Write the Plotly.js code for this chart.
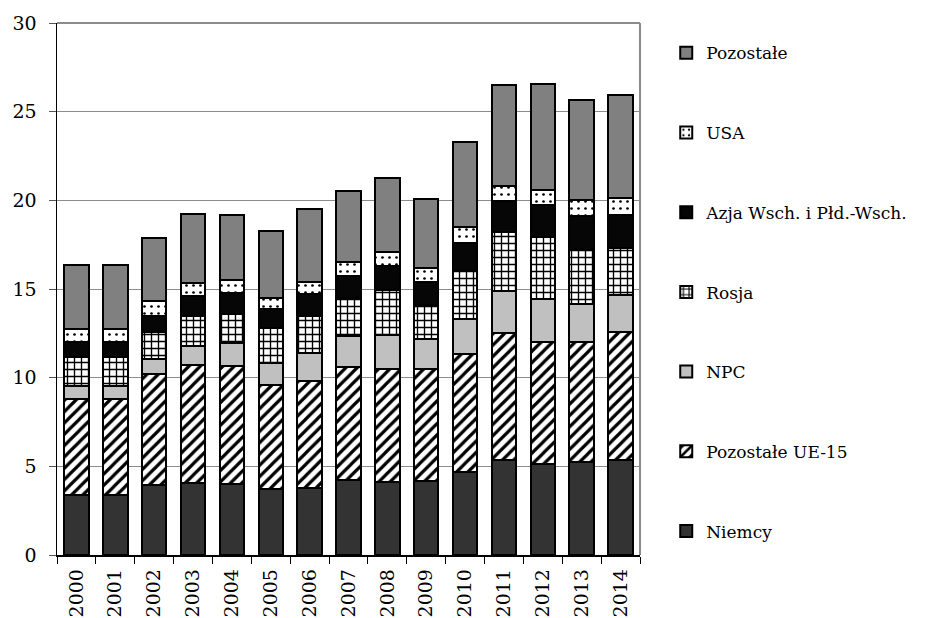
<!DOCTYPE html>
<html>
<head>
<meta charset="utf-8">
<script src="https://cdn.plot.ly/plotly-3.0.1.min.js"></script>
<style>html,body{margin:0;padding:0;background:#fff;}#chart{width:928px;height:618px;}</style>
</head>
<body>
<div id="chart"></div>
<script>
const years = ["2000","2001","2002","2003","2004","2005","2006","2007","2008","2009","2010","2011","2012","2013","2014"];
const niemcy     = [3.39,3.39,3.93,4.08,3.99,3.71,3.76,4.23,4.14,4.18,4.67,5.36,5.14,5.23,5.36];
const pozUE15    = [5.40,5.40,6.28,6.64,6.64,5.88,6.08,6.36,6.34,6.32,6.67,7.15,6.86,6.77,7.21];
const npc        = [0.75,0.75,0.87,1.04,1.32,1.23,1.54,1.77,1.94,1.69,1.96,2.35,2.43,2.16,2.10];
const rosja      = [1.65,1.65,1.47,1.69,1.65,1.97,2.07,2.13,2.53,1.92,2.69,3.35,3.50,3.05,2.64];
const azja       = [0.83,0.83,0.94,1.13,1.17,1.11,1.28,1.22,1.36,1.31,1.63,1.78,1.82,1.89,1.88];
const usa        = [0.73,0.73,0.81,0.75,0.71,0.59,0.69,0.84,0.75,0.79,0.87,0.83,0.85,0.93,0.94];
const pozostale  = [3.62,3.62,3.59,3.91,3.72,3.78,4.09,3.95,4.21,3.86,4.80,5.70,5.96,5.61,5.83];
const yTicks = [0,5,10,15,20,25,30];

const line = {color:'#000', width:2};
function bar(name, vals, color, rank, pattern){
  const m = {color: color, line: line};
  if (pattern) m.pattern = pattern;
  return {type:'bar', name:name, x:years, y:vals, marker:m, legendgroup:name, legendrank:rank, hoverinfo:'x+y+name'};
}
const traces = [
  bar('Niemcy', niemcy, '#333333', 7),
  bar('Pozostałe UE-15', pozUE15, '#ffffff', 6, {shape:'/', fgcolor:'#000', bgcolor:'#fff', size:8, solidity:0.4}),
  bar('NPC', npc, '#c0c0c0', 5),
  bar('Rosja', rosja, '#ffffff', 4, {shape:'+', fgcolor:'#000', bgcolor:'#fff', size:7, solidity:0.35}),
  bar('Azja Wsch. i Płd.-Wsch.', azja, '#060606', 3),
  bar('USA', usa, '#ffffff', 2, {shape:'.', fgcolor:'#000', bgcolor:'#fff', size:7, solidity:0.12}),
  bar('Pozostałe', pozostale, '#808080', 1)
];

const fam = 'DejaVu Serif';
const layout = {
  width:928, height:618,
  margin:{l:57, r:288, t:23, b:63, pad:0},
  paper_bgcolor:'#fff', plot_bgcolor:'#fff',
  barmode:'stack', bargap:0.37,
  font:{family:fam, size:19, color:'#000'},
  showlegend:true,
  legend:{
    x:1.045, xanchor:'left', y:0.977, yanchor:'top',
    traceorder:'grouped', tracegroupgap:54.6,
    font:{family:fam, size:17, color:'#000'},
    bgcolor:'rgba(0,0,0,0)', borderwidth:0
  },
  xaxis:{
    type:'category', tickson:'boundaries', ticks:'outside', ticklen:7, tickcolor:'#000', tickwidth:1,
    tickangle:-90, showline:true, linecolor:'#000', linewidth:1.5,
    tickfont:{family:fam, size:19, color:'#000'}, ticklabelstandoff:5,
    showgrid:false, zeroline:false, fixedrange:true
  },
  yaxis:{
    range:[0,30], tickvals:yTicks, ticks:'outside', ticklen:7, tickcolor:'#555', tickwidth:1,
    showline:true, linecolor:'#000', linewidth:1.5,
    showgrid:true, gridcolor:'#8c8c8c', gridwidth:1, zeroline:false,
    tickfont:{family:fam, size:19, color:'#000'}, ticklabelstandoff:8, fixedrange:true
  },
  shapes:[
    {type:'line', xref:'paper', yref:'paper', x0:0, x1:1, y0:1, y1:1, line:{color:'#8c8c8c', width:2}},
    {type:'line', xref:'paper', yref:'paper', x0:1, x1:1, y0:0, y1:1, line:{color:'#8c8c8c', width:2}}
  ]
};
Plotly.newPlot('chart', traces, layout, {displayModeBar:false, staticPlot:true});
</script>
</body>
</html>
